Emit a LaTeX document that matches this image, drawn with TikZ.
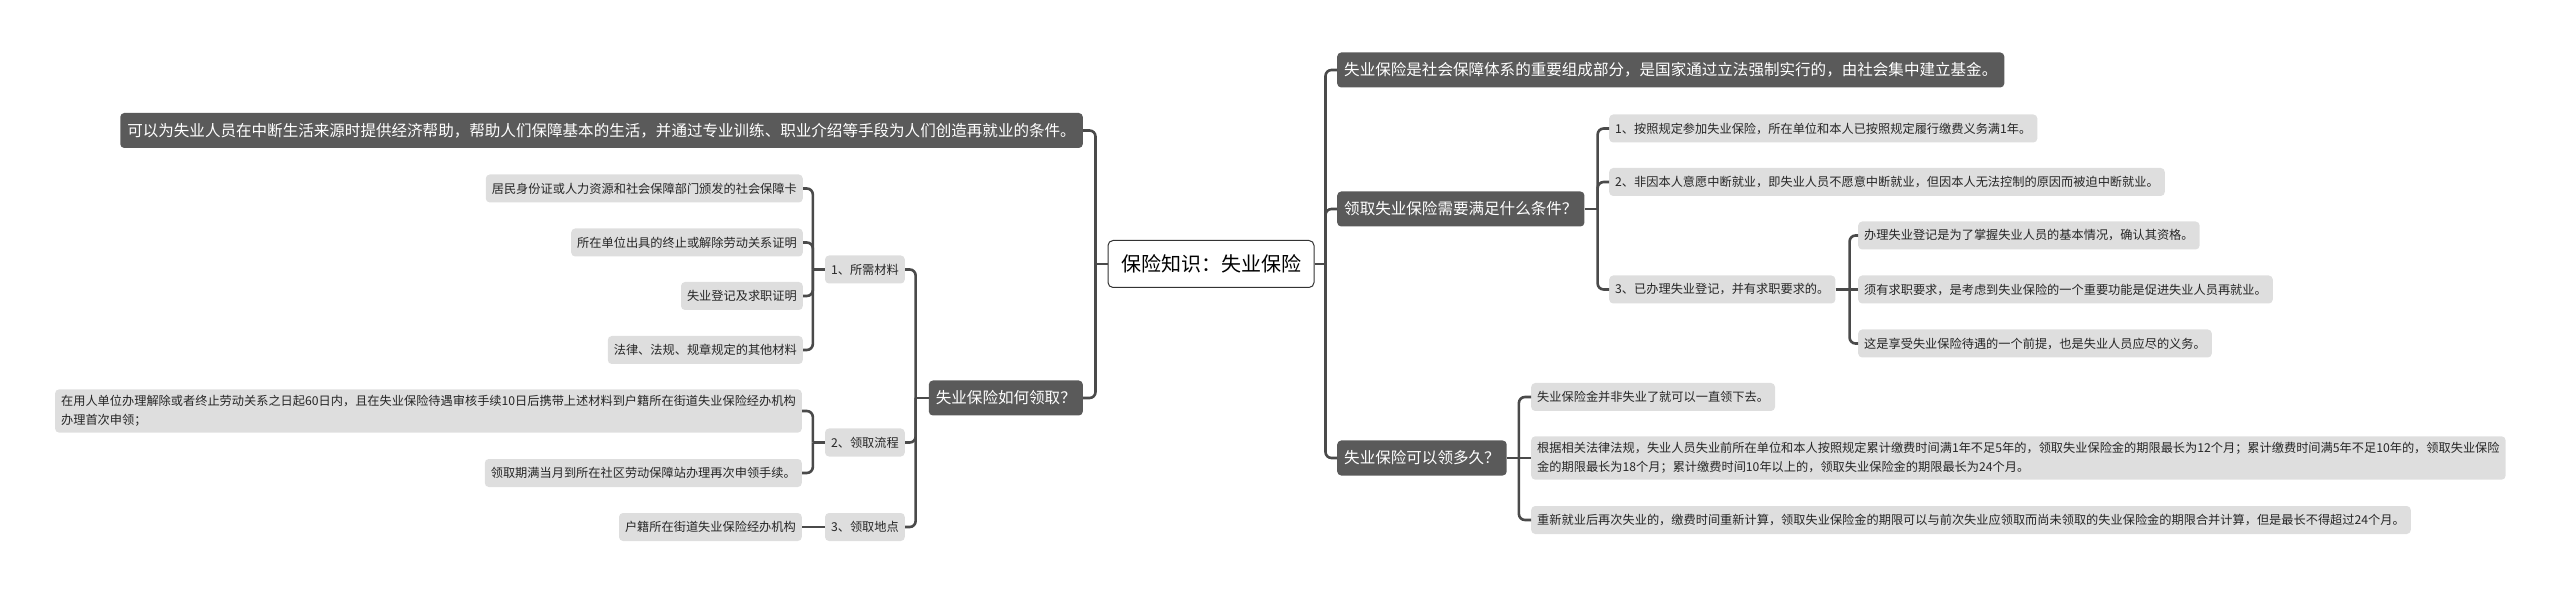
\documentclass[tikz,border=0pt]{standalone}
\usepackage{fontspec}
\setmainfont{Noto Sans CJK SC}
\usetikzlibrary{positioning}

\definecolor{darkbox}{HTML}{5A5A5A}
\definecolor{lightbox}{HTML}{DEDEDE}
\definecolor{linkgray}{HTML}{4A4A4A}

\begin{document}
\begin{tikzpicture}[x=1pt, y=-1pt,
        topic/.style={draw=black!80, line width=1pt, fill=white, rounded corners=5pt, inner xsep=13pt, minimum height=47pt, font=\fontsize{20}{24}\selectfont},
        main/.style={fill=darkbox, text=white, rounded corners=4pt, inner xsep=7pt, minimum height=35pt, font=\fontsize{15.55}{19}\selectfont},
        leaf/.style={fill=lightbox, text=black!85, rounded corners=4pt, inner xsep=6pt, inner ysep=6pt, minimum height=28pt, align=left, font=\fontsize{12.2}{19}\selectfont},
        link/.style={draw=linkgray, line width=2.6pt, rounded corners=6pt}]
        \useasboundingbox (0,0) rectangle (2560,593);

        \node[topic] (root) at (1211,264) {保险知识：失业保险};

	\node[main, anchor=west] (basis) at (1337,70) {失业保险是社会保障体系的重要组成部分，是国家通过立法强制实行的，由社会集中建立基金。};
	\node[main, anchor=west] (cond) at (1337,209) {领取失业保险需要满足什么条件？};
	\node[main, anchor=west] (howlong) at (1337,458) {失业保险可以领多久？};

	\node[leaf, anchor=west] (cond1) at (1609,128.5) {1、按照规定参加失业保险，所在单位和本人已按照规定履行缴费义务满1年。};
	\node[leaf, anchor=west] (cond2) at (1609,182) {2、非因本人意愿中断就业，即失业人员不愿意中断就业，但因本人无法控制的原因而被迫中断就业。};
	\node[leaf, anchor=west] (cond3) at (1609,289.5) {3、已办理失业登记，并有求职要求的。};

	\node[leaf, anchor=west] (reg1) at (1858,235.5) {办理失业登记是为了掌握失业人员的基本情况，确认其资格。};
	\node[leaf, anchor=west] (reg2) at (1858,289.5) {须有求职要求，是考虑到失业保险的一个重要功能是促进失业人员再就业。};
	\node[leaf, anchor=west] (reg3) at (1858,343.5) {这是享受失业保险待遇的一个前提，也是失业人员应尽的义务。};

	\node[leaf, anchor=west] (term1) at (1531,397) {失业保险金并非失业了就可以一直领下去。};
	\node[leaf, anchor=west] (term2) at (1531,458) {根据相关法律法规，失业人员失业前所在单位和本人按照规定累计缴费时间满1年不足5年的，领取失业保险金的期限最长为12个月；累计缴费时间满5年不足10年的，领取失业保险\\金的期限最长为18个月；累计缴费时间10年以上的，领取失业保险金的期限最长为24个月。};
	\node[leaf, anchor=west] (term3) at (1531,520) {重新就业后再次失业的，缴费时间重新计算，领取失业保险金的期限可以与前次失业应领取而尚未领取的失业保险金的期限合并计算，但是最长不得超过24个月。};

	\node[main, anchor=east] (aim) at (1083,130.5) {可以为失业人员在中断生活来源时提供经济帮助，帮助人们保障基本的生活，并通过专业训练、职业介绍等手段为人们创造再就业的条件。};
	\node[main, anchor=east] (how) at (1083,398) {失业保险如何领取？};

	\node[leaf, anchor=east] (need) at (905,269.5) {1、所需材料};
	\node[leaf, anchor=east] (flow) at (905,442.5) {2、领取流程};
	\node[leaf, anchor=east] (place) at (905,527) {3、领取地点};

	\node[leaf, anchor=east] (need1) at (803,188.5) {居民身份证或人力资源和社会保障部门颁发的社会保障卡};
	\node[leaf, anchor=east] (need2) at (803,242.5) {所在单位出具的终止或解除劳动关系证明};
	\node[leaf, anchor=east] (need3) at (803,296) {失业登记及求职证明};
	\node[leaf, anchor=east] (need4) at (803,350) {法律、法规、规章规定的其他材料};

	\node[leaf, anchor=east] (flow1) at (802,411) {在用人单位办理解除或者终止劳动关系之日起60日内，且在失业保险待遇审核手续10日后携带上述材料到户籍所在街道失业保险经办机构\\办理首次申领；};
	\node[leaf, anchor=east] (flow2) at (802,473) {领取期满当月到所在社区劳动保障站办理再次申领手续。};

	\node[leaf, anchor=east] (place1) at (802,527) {户籍所在街道失业保险经办机构};

        \path (root.east) ++(11,0) coordinate (rootR);
        \path (root.west) ++(-12,0) coordinate (rootL);
        \path (cond.east) ++(13,0) coordinate (condR);
        \path (cond3.east) ++(14,0) coordinate (cond3R);
        \path (howlong.east) ++(12,0) coordinate (howlongR);
        \path (how.west) ++(-13,0) coordinate (howL);
        \path (need.west) ++(-12,0) coordinate (needL);
        \path (flow.west) ++(-12,0) coordinate (flowL);

	\draw[link] (root.east) -- (rootR);
	\draw[link] (rootR) |- (basis.west);
	\draw[link] (rootR) |- (cond.west);
	\draw[link] (rootR) |- (howlong.west);

	\draw[link] (cond.east) -- (condR);
	\draw[link] (condR) |- (cond1.west);
	\draw[link] (condR) |- (cond2.west);
	\draw[link] (condR) |- (cond3.west);

	\draw[link] (cond3.east) -- (reg2.west);
	\draw[link] (cond3R) |- (reg1.west);
	\draw[link] (cond3R) |- (reg3.west);

	\draw[link] (howlong.east) -- (term2.west);
	\draw[link] (howlongR) |- (term1.west);
	\draw[link] (howlongR) |- (term3.west);

	\draw[link] (root.west) -- (rootL);
	\draw[link] (rootL) |- (aim.east);
	\draw[link] (rootL) |- (how.east);

	\draw[link] (how.west) -- (howL);
	\draw[link] (howL) |- (need.east);
	\draw[link] (howL) |- (flow.east);
	\draw[link] (howL) |- (place.east);

	\draw[link] (need.west) -- (needL);
	\draw[link] (needL) |- (need1.east);
	\draw[link] (needL) |- (need2.east);
	\draw[link] (needL) |- (need3.east);
	\draw[link] (needL) |- (need4.east);

	\draw[link] (flow.west) -- (flowL);
	\draw[link] (flowL) |- (flow1.east);
	\draw[link] (flowL) |- (flow2.east);

	\draw[link] (place.west) -- (place1.east);

\end{tikzpicture}
\end{document}
